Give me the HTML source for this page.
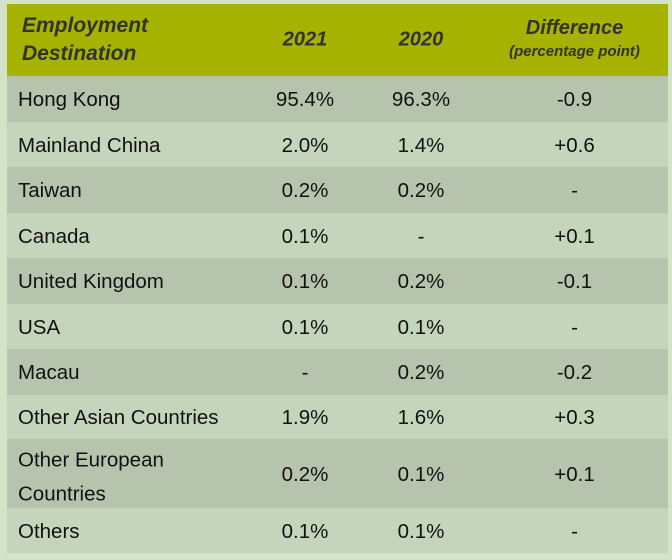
<!DOCTYPE html>
<html><head><style>
body{margin:0;width:672px;height:560px;background:#d3e3c8;font-family:"Liberation Sans",sans-serif;overflow:hidden;position:relative}
.t{position:absolute;left:7px;top:4px;width:661px}
.r{position:absolute;left:0;width:661px;font-size:20.5px;color:#111}
.r div{position:absolute;top:50%;transform:translateY(-45%)}
.a{background:#b6c4ae}.b{background:#c4d5bb}
.h{background:#a5b200;color:#333;font-weight:bold;font-style:italic;font-size:20px}
.h div{transform:translateY(-50%)}
.c1{left:11px}.c2{left:248px;width:100px;text-align:center}.c3{left:364px;width:100px;text-align:center}.c4{left:500px;width:135px;text-align:center}
</style></head><body>
<div class="t">
<div class="r h" style="top:0;height:72px"><div class="c1" style="line-height:28px;left:15px;font-size:21px">Employment<br>Destination</div><div class="c2">2021</div><div class="c3">2020</div><div class="c4" style="line-height:22px">Difference<br><span style="font-size:15px">(percentage point)</span></div></div>
<div class="r a" style="top:72px;height:46px"><div class="c1">Hong Kong</div><div class="c2">95.4%</div><div class="c3">96.3%</div><div class="c4">-0.9</div></div>
<div class="r b" style="top:118px;height:45px"><div class="c1">Mainland China</div><div class="c2">2.0%</div><div class="c3">1.4%</div><div class="c4">+0.6</div></div>
<div class="r a" style="top:163px;height:46px"><div class="c1">Taiwan</div><div class="c2">0.2%</div><div class="c3">0.2%</div><div class="c4">-</div></div>
<div class="r b" style="top:209px;height:45px"><div class="c1">Canada</div><div class="c2">0.1%</div><div class="c3">-</div><div class="c4">+0.1</div></div>
<div class="r a" style="top:254px;height:46px"><div class="c1">United Kingdom</div><div class="c2">0.1%</div><div class="c3">0.2%</div><div class="c4">-0.1</div></div>
<div class="r b" style="top:300px;height:45px"><div class="c1">USA</div><div class="c2">0.1%</div><div class="c3">0.1%</div><div class="c4">-</div></div>
<div class="r a" style="top:345px;height:46px"><div class="c1">Macau</div><div class="c2">-</div><div class="c3">0.2%</div><div class="c4">-0.2</div></div>
<div class="r b" style="top:391px;height:44px"><div class="c1">Other Asian Countries</div><div class="c2">1.9%</div><div class="c3">1.6%</div><div class="c4">+0.3</div></div>
<div class="r a" style="top:435px;height:69px"><div class="c1" style="line-height:34px">Other European<br>Countries</div><div class="c2">0.2%</div><div class="c3">0.1%</div><div class="c4">+0.1</div></div>
<div class="r b" style="top:504px;height:45px"><div class="c1">Others</div><div class="c2">0.1%</div><div class="c3">0.1%</div><div class="c4">-</div></div>
</div>
</body></html>
